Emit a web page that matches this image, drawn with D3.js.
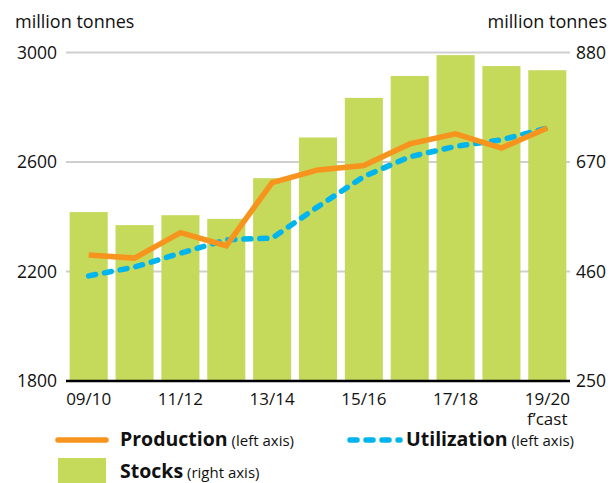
<!DOCTYPE html>
<html>
<head>
<meta charset="utf-8">
<script src="https://cdn.jsdelivr.net/npm/d3@7"></script>
<style>
  body { margin: 0; background: #fff; }
  svg text { font-family: "Open Sans", "Noto Sans", sans-serif; fill: #111; }
</style>
</head>
<body>
<div id="chart"></div>
<script>
// marketing years and values (million tonnes)
const seasons = ["09/10", "10/11", "11/12", "12/13", "13/14", "14/15", "15/16", "16/17", "17/18", "18/19", "19/20"];
const tickSeasons = ["09/10", "11/12", "13/14", "15/16", "17/18", "19/20"];
const production = [2260, 2249, 2342, 2294, 2525, 2571, 2587, 2666, 2703, 2651, 2724];
const utilization = [2184, 2216, 2267, 2316, 2322, 2437, 2547, 2619, 2657, 2681, 2724];
const stocks = [574, 549, 568, 561, 639, 717, 793, 835, 875, 854, 846];
const leftTicks = [1800, 2200, 2600, 3000];
const rightTicks = [250, 460, 670, 880];

function drawChart() {
    const W = 612, H = 483;
    const margin = { top: 52.5, right: 42, bottom: 102, left: 66 },
        width = W - margin.left - margin.right,
        height = H - margin.top - margin.bottom;

    const svg = d3.select("#chart")
        .append("svg")
        .attr("width", W)
        .attr("height", H);

    const g = svg.append("g")
        .attr("transform", "translate(" + margin.left + "," + margin.top + ")");

    const x = d3.scaleBand()
        .domain(seasons)
        .range([0, width])
        .paddingInner(0.17)
        .paddingOuter(0.08);

    const yLeft = d3.scaleLinear().domain([1800, 3000]).range([height, 0]);
    const yRight = d3.scaleLinear().domain([250, 880]).range([height, 0]);

    // gridlines
    g.selectAll(".grid")
        .data(leftTicks.slice(1))
        .enter()
        .append("line")
        .attr("x1", 0)
        .attr("x2", width)
        .attr("y1", d => yLeft(d))
        .attr("y2", d => yLeft(d))
        .attr("stroke", "#cfcfcf")
        .attr("stroke-width", 2);

    // stocks bars
    g.selectAll(".bar")
        .data(stocks)
        .enter()
        .append("rect")
        .attr("x", (d, i) => x(seasons[i]))
        .attr("y", d => yRight(d))
        .attr("width", x.bandwidth())
        .attr("height", d => height - yRight(d))
        .attr("fill", "#c5d95b");

    // base line
    g.append("line")
        .attr("x1", 0)
        .attr("x2", width)
        .attr("y1", height)
        .attr("y2", height)
        .attr("stroke", "#000")
        .attr("stroke-width", 2.5);

    const cx = i => x(seasons[i]) + x.bandwidth() / 2;

    const line = d3.line()
        .x((d, i) => cx(i))
        .y(d => yLeft(d));

    g.append("path")
        .datum(utilization)
        .attr("fill", "none")
        .attr("stroke", "#00b5ee")
        .attr("stroke-width", 5.5)
        .attr("stroke-linecap", "round")
        .attr("stroke-dasharray", "7,9")
        .attr("d", line);

    g.append("path")
        .datum(production)
        .attr("fill", "none")
        .attr("stroke", "#f7941e")
        .attr("stroke-width", 5.5)
        .attr("stroke-linejoin", "miter")
        .attr("d", line);

    // left axis labels
    g.selectAll(".lt")
        .data(leftTicks)
        .enter()
        .append("text")
        .attr("x", -9)
        .attr("y", d => yLeft(d))
        .attr("dy", "0.36em")
        .attr("text-anchor", "end")
        .style("font-size", "17.5px")
        .text(d => d);

    g.selectAll(".rt")
        .data(rightTicks)
        .enter()
        .append("text")
        .attr("x", width + 6)
        .attr("y", d => yRight(d))
        .attr("dy", "0.36em")
        .attr("text-anchor", "start")
        .style("font-size", "17.5px")
        .text(d => d);

    // x labels
    g.selectAll(".xt")
        .data(tickSeasons)
        .enter()
        .append("text")
        .attr("x", d => x(d) + x.bandwidth() / 2)
        .attr("y", height + 24)
        .attr("text-anchor", "middle")
        .style("font-size", "17px")
        .text(d => d);

    g.append("text")
        .attr("x", x("19/20") + x.bandwidth() / 2)
        .attr("y", height + 43.5)
        .attr("text-anchor", "middle")
        .style("font-size", "17px")
        .text("f\u2019cast");

    // unit labels
    svg.append("text")
        .attr("x", 15)
        .attr("y", 28)
        .style("font-size", "18px")
        .text("million tonnes");

    svg.append("text")
        .attr("x", 607)
        .attr("y", 28)
        .attr("text-anchor", "end")
        .style("font-size", "18px")
        .text("million tonnes");

    // legend
    const legend = svg.append("g");

    legend.append("line")
        .attr("x1", 58).attr("x2", 106)
        .attr("y1", 440).attr("y2", 440)
        .attr("stroke", "#f7941e")
        .attr("stroke-width", 5.5)
        .attr("stroke-linecap", "round");

    const t1 = legend.append("text").attr("x", 120).attr("y", 446);
    t1.append("tspan").style("font-size", "19.5px").style("font-weight", "bold").text("Production");
    t1.append("tspan").style("font-size", "15px").text(" (left axis)");

    legend.append("line")
        .attr("x1", 350).attr("x2", 400)
        .attr("y1", 440).attr("y2", 440)
        .attr("stroke", "#00b5ee")
        .attr("stroke-width", 5.5)
        .attr("stroke-linecap", "round")
        .attr("stroke-dasharray", "7,9");

    const t2 = legend.append("text").attr("x", 406).attr("y", 446);
    t2.append("tspan").style("font-size", "19.5px").style("font-weight", "bold").text("Utilization");
    t2.append("tspan").style("font-size", "15px").text(" (left axis)");

    legend.append("rect")
        .attr("x", 58).attr("y", 458)
        .attr("width", 48).attr("height", 25)
        .attr("fill", "#c5d95b");

    const t3 = legend.append("text").attr("x", 120).attr("y", 477.5);
    t3.append("tspan").style("font-size", "19.5px").style("font-weight", "bold").text("Stocks");
    t3.append("tspan").style("font-size", "15px").text(" (right axis)");
}

drawChart();
</script>
</body>
</html>
